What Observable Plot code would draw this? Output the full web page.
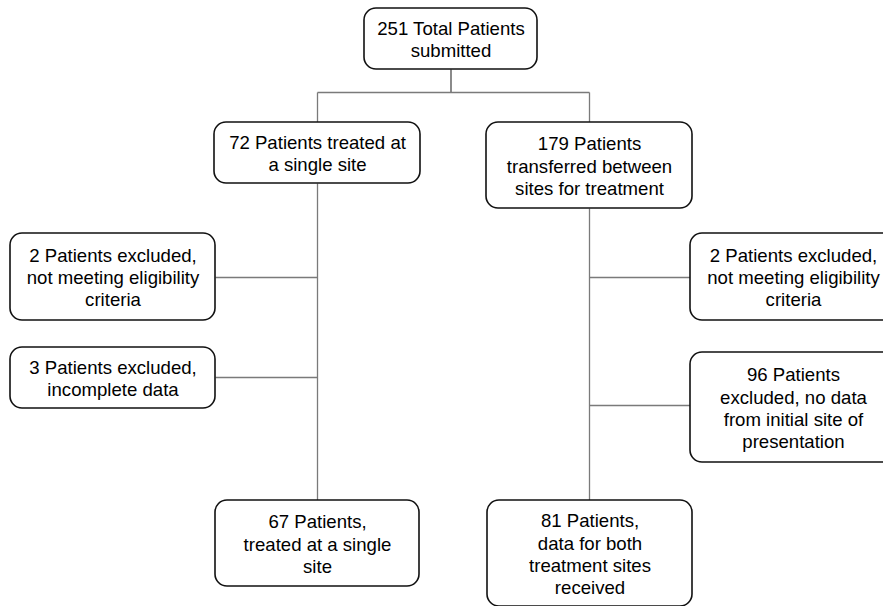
<!DOCTYPE html>
<html>
<head>
<meta charset="utf-8">
<script src="https://cdn.jsdelivr.net/npm/d3@7"></script>
<script src="https://cdn.jsdelivr.net/npm/@observablehq/plot@0.6"></script>
<style>
  html, body { margin: 0; padding: 0; background: #fff; overflow: hidden; }
  #chart svg { overflow: hidden; display: block; }
</style>
</head>
<body>
<div id="chart"></div>
<script>
// ---- data: node labels ----
const nodeIds = ["total", "single", "transfer", "exclL1", "exclL2", "exclR1", "exclR2", "finalL", "finalR"];
const nodeLabels = [
  "251 Total Patients\nsubmitted",
  "72 Patients treated at\na single site",
  "179 Patients\ntransferred between\nsites for treatment",
  "2 Patients excluded,\nnot meeting eligibility\ncriteria",
  "3 Patients excluded,\nincomplete data",
  "2 Patients excluded,\nnot meeting eligibility\ncriteria",
  "96 Patients\nexcluded, no data\nfrom initial site of\npresentation",
  "67 Patients,\ntreated at a single\nsite",
  "81 Patients,\ndata for both\ntreatment sites\nreceived"
];
// ---- links between nodes (parent -> child) ----
const linkFrom = ["total", "total", "single", "single", "single", "transfer", "transfer", "transfer"];
const linkTo   = ["single", "transfer", "exclL1", "exclL2", "finalL", "exclR1", "exclR2", "finalR"];

// ---- layout (diagram geometry in chart units, separate from data) ----
const layout = {
  total:    {x1: 364, x2: 537, y1: 8,   y2: 69},
  single:   {x1: 214, x2: 420, y1: 122, y2: 183},
  transfer: {x1: 486, x2: 692, y1: 122, y2: 208},
  exclL1:   {x1: 10,  x2: 215, y1: 233, y2: 320},
  exclL2:   {x1: 10,  x2: 215, y1: 347, y2: 408},
  exclR1:   {x1: 690, x2: 896, y1: 233, y2: 320},
  exclR2:   {x1: 690, x2: 896, y1: 352, y2: 462},
  finalL:   {x1: 215, x2: 419, y1: 500, y2: 586},
  finalR:   {x1: 487, x2: 692, y1: 500, y2: 606}
};
const trunkX = {single: 317, transfer: 589};
const splitY = 92;
const spurY = {exclL1: 277, exclL2: 377, exclR1: 277, exclR2: 405};

const nodes = nodeIds.map((id, i) => ({id, label: nodeLabels[i], ...layout[id],
  cx: (layout[id].x1 + layout[id].x2) / 2, cy: (layout[id].y1 + layout[id].y2) / 2}));
const byId = Object.fromEntries(nodes.map(d => [d.id, d]));

// build connector segments
const segs = [];
linkFrom.forEach((f, i) => {
  const t = linkTo[i];
  const p = byId[f];
  if (f === "total") {
    const tx = trunkX[t];
    segs.push({x1: p.cx, y1: p.y2, x2: p.cx, y2: splitY});
    segs.push({x1: p.cx, y1: splitY, x2: tx, y2: splitY});
    segs.push({x1: tx, y1: splitY, x2: tx, y2: byId[t].y1});
  } else {
    const tx = trunkX[f];
    if (t in spurY) {
      const c = byId[t];
      const ex = c.x2 < tx ? c.x2 : c.x1;
      segs.push({x1: tx, y1: spurY[t], x2: ex, y2: spurY[t]});
    } else {
      segs.push({x1: tx, y1: p.y2, x2: tx, y2: byId[t].y1});
    }
  }
});

const W = 883, H = 606;
const chart = Plot.plot({
  width: W,
  height: H,
  margin: 0,
  x: {domain: [0, W], range: [0, W], axis: null},
  y: {domain: [0, H], range: [0, H], axis: null},
  marks: [
    Plot.link(segs, {x1: "x1", y1: "y1", x2: "x2", y2: "y2", stroke: "#7a7a7a", strokeWidth: 1.3}),
    Plot.rect(nodes, {x1: "x1", x2: "x2", y1: "y1", y2: "y2", fill: "white", stroke: "#111", strokeWidth: 1.6, rx: 12, ry: 12}),
    Plot.text(nodes, {x: "cx", y: "cy", text: "label", fontSize: 18.6, lineHeight: 1.19,
      fill: "#000", fontFamily: "Liberation Sans, Arial, sans-serif", textAnchor: "middle", lineAnchor: "middle"})
  ]
});
document.getElementById("chart").appendChild(chart);
</script>
</body>
</html>
